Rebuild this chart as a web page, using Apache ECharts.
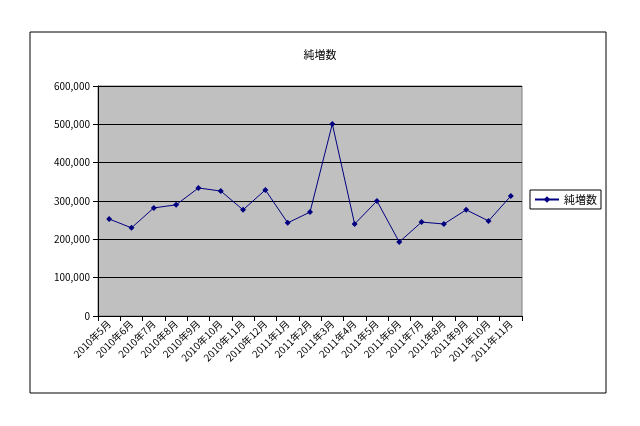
<!DOCTYPE html>
<html>
<head>
<meta charset="utf-8">
<script src="https://cdn.jsdelivr.net/npm/echarts@6/dist/echarts.min.js"></script>
<style>body{margin:0;background:#fff}#chart{width:640px;height:426px}</style>
</head>
<body>
<div id="chart"></div>
<script>
// 月別の純増数
var months = ['2010年5月','2010年6月','2010年7月','2010年8月','2010年9月','2010年10月','2010年11月','2010年12月',
    '2011年1月','2011年2月','2011年3月','2011年4月','2011年5月','2011年6月','2011年7月','2011年8月',
    '2011年9月','2011年10月','2011年11月'];
var netAdds = [253000,230000,282000,290000,334000,326000,277000,329000,243000,271000,501000,240000,
    300000,193000,245000,240000,277000,248000,313000];

var font = '"Noto Sans CJK JP", sans-serif';
var chart = echarts.init(document.getElementById('chart'));
chart.setOption({
    animation: false,
    title: {
        text: '純増数', left: 'center', top: 44,
        textStyle: {fontSize: 11, fontWeight: 'normal', color: '#000', fontFamily: font}
    },
    graphic: [{
        type: 'rect', shape: {x: 30, y: 32, width: 576, height: 361},
        style: {fill: 'none', stroke: '#000', lineWidth: 1}, z: -1
    }],
    legend: {
        orient: 'vertical', left: 530, top: 190,
        borderColor: '#000', borderWidth: 1, padding: [4, 4],
        itemWidth: 24, itemHeight: 8,
        textStyle: {fontSize: 11, color: '#000', fontFamily: font}
    },
    grid: {left: 98, right: 118, top: 86, bottom: 110, show: true,
        backgroundColor: '#c0c0c0', borderColor: '#808080', borderWidth: 1},
    xAxis: {
        type: 'category', data: months, boundaryGap: true,
        axisLine: {lineStyle: {color: '#000'}},
        axisTick: {show: true, alignWithLabel: false, lineStyle: {color: '#000'}},
        axisLabel: {rotate: 45, interval: 0, fontSize: 10, color: '#000', fontFamily: font, margin: 6}
    },
    yAxis: {
        type: 'value', min: 0, max: 600000, interval: 100000,
        axisLine: {show: true, lineStyle: {color: '#000'}},
        axisTick: {show: true, lineStyle: {color: '#000'}},
        splitLine: {lineStyle: {color: '#000'}},
        axisLabel: {fontSize: 10, color: '#000', fontFamily: font,
            formatter: function (v) { return v.toLocaleString('en-US'); }}
    },
    series: [{
        name: '純増数', type: 'line', data: netAdds,
        symbol: 'diamond', symbolSize: 6,
        lineStyle: {color: '#000080', width: 1},
        itemStyle: {color: '#000080'}
    }]
});
</script>
</body>
</html>
